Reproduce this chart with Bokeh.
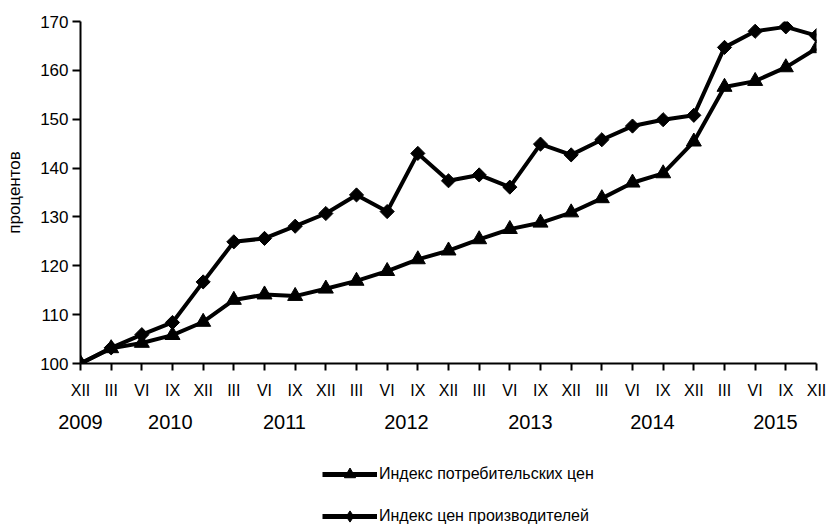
import math
from bokeh.plotting import figure
from bokeh.layouts import column
from bokeh.models import Range1d, FixedTicker, Legend, LegendItem, ColumnDataSource, LinearAxis
from bokeh.embed import file_html
from bokeh.resources import INLINE

# ---------------- data ----------------
quarter_labels = ["XII", "III", "VI", "IX", "XII", "III", "VI", "IX", "XII",
                  "III", "VI", "IX", "XII", "III", "VI", "IX", "XII",
                  "III", "VI", "IX", "XII", "III", "VI", "IX", "XII"]
cpi = [100.0, 103.1, 104.2, 105.8, 108.5, 113.0, 114.1, 113.8, 115.3,
       116.9, 118.9, 121.3, 123.1, 125.4, 127.5, 128.8, 130.9,
       133.8, 137.0, 138.9, 145.4, 156.6, 157.8, 160.6, 164.5]
ppi = [100.0, 103.2, 105.9, 108.4, 116.7, 124.9, 125.6, 128.1, 130.7,
       134.5, 131.1, 143.0, 137.4, 138.6, 136.1, 144.9, 142.7,
       145.8, 148.6, 149.9, 150.8, 164.7, 168.0, 168.9, 167.1]
years = ["2009", "2010", "2011", "2012", "2013", "2014", "2015"]
cpi_name = "Индекс потребительских цен"
ppi_name = "Индекс цен производителей"
y_title = "процентов"

# ---------------- layout ----------------
FONT = "Liberation Sans"
W = 829
H_MAIN, H_LEG = 440, 84
n = len(quarter_labels) - 1
ymin, ymax = 100, 170
# where each year caption is centred, in quarter-index units
year_anchor = [0, 2.93, 6.65, 10.63, 14.67, 18.65, 22.66]

p = figure(width=W, height=H_MAIN, output_backend="svg", toolbar_location=None,
           x_range=Range1d(0, n), y_range=Range1d(ymin, ymax),
           min_border_left=80, min_border_right=13, min_border_top=21,
           min_border_bottom=H_MAIN - 363)
p.outline_line_color = None
p.xgrid.visible = False
p.ygrid.visible = False
p.background_fill_color = "white"
p.border_fill_color = "white"

xs = list(range(len(quarter_labels)))
src = ColumnDataSource(dict(x=xs, cpi=cpi, ppi=ppi))

LINE_W = 4
DIAMOND = dict(marker="square", angle=math.pi / 4, size=10, fill_color="black", line_color="black")
TRIANGLE = dict(marker="triangle", size=15, fill_color="black", line_color="black")

p.line("x", "ppi", source=src, line_color="black", line_width=LINE_W)
p.scatter("x", "ppi", source=src, **DIAMOND)
p.line("x", "cpi", source=src, line_color="black", line_width=LINE_W)
p.scatter("x", "cpi", source=src, **TRIANGLE)

def style_axis(ax, size):
    ax.minor_tick_line_color = None
    ax.major_tick_in = 0
    ax.axis_line_width = 2
    ax.major_tick_line_width = 2
    ax.axis_line_color = "black"
    ax.major_tick_line_color = "black"
    ax.major_label_text_font = FONT
    ax.major_label_text_font_size = size
    ax.major_label_text_color = "black"

# x axis: quarters
xa = p.xaxis[0]
style_axis(xa, "16px")
xa.ticker = FixedTicker(ticks=xs)
xa.major_label_overrides = {i: lab for i, lab in enumerate(quarter_labels)}
xa.major_tick_out = 7
xa.major_label_standoff = 11

# x axis: years
yr_axis = LinearAxis(ticker=FixedTicker(ticks=year_anchor),
                     major_label_overrides={a: yr for a, yr in zip(year_anchor, years)})
style_axis(yr_axis, "20px")
yr_axis.axis_line_color = None
yr_axis.major_tick_line_color = None
yr_axis.major_tick_out = 0
yr_axis.major_label_standoff = 13
p.add_layout(yr_axis, "below")

# y axis
ya = p.yaxis[0]
style_axis(ya, "17px")
ya.ticker = FixedTicker(ticks=list(range(ymin, ymax + 1, 10)))
ya.major_tick_out = 8
ya.major_label_standoff = 4
ya.axis_label = y_title
ya.axis_label_text_font = FONT
ya.axis_label_text_font_size = "17px"
ya.axis_label_text_font_style = "normal"
ya.axis_label_text_color = "black"
ya.axis_label_standoff = 13

# ---------------- legend strip ----------------
# same series, drawn in a strip whose range shows none of them: only the legend keys appear
q = figure(width=W, height=H_LEG, output_backend="svg", toolbar_location=None,
           x_range=Range1d(0, 1), y_range=Range1d(0, 1),
           x_axis_type=None, y_axis_type=None, min_border=0)
q.outline_line_color = None
q.xgrid.visible = False
q.ygrid.visible = False
lc = q.line("x", "cpi", source=src, line_color="black", line_width=5)
sc = q.scatter("x", "cpi", source=src, marker="triangle", size=15,
               fill_color="black", line_color="black")
lp = q.line("x", "ppi", source=src, line_color="black", line_width=5)
sp = q.scatter("x", "ppi", source=src, marker="diamond", size=15,
               fill_color="black", line_color="black")

legend = Legend(items=[LegendItem(label=cpi_name, renderers=[lc, sc]),
                       LegendItem(label=ppi_name, renderers=[lp, sp])],
                location=(242, -6), orientation="vertical", glyph_width=55,
                glyph_height=28, label_height=28, spacing=14, padding=0,
                margin=0, border_line_color=None, background_fill_alpha=0,
                label_standoff=2, label_text_font=FONT,
                label_text_font_size="16px", label_text_color="black")
q.add_layout(legend)

open("out.html", "w").write(file_html(column(p, q, spacing=0), INLINE))
